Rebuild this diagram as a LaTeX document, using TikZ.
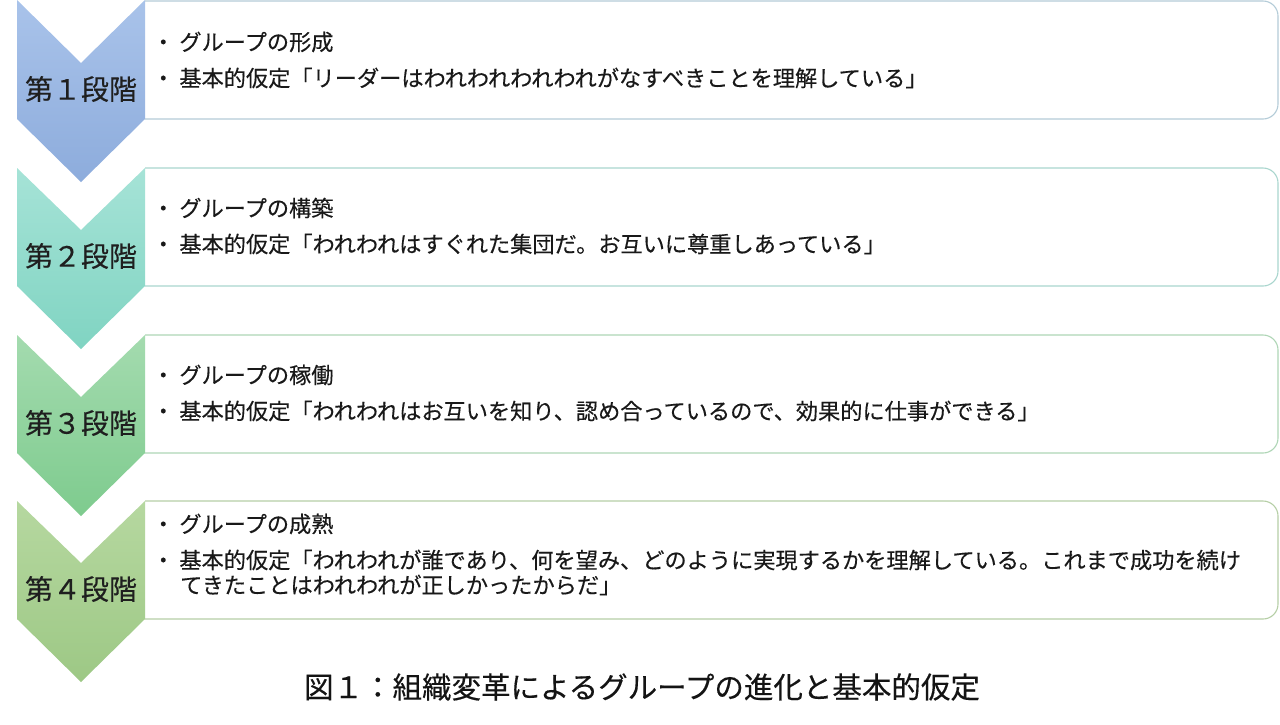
\documentclass[tikz,border=0pt]{standalone}
\usepackage{fontspec}
\setmainfont{Noto Sans CJK JP}[FakeBold=0.3]
\definecolor{aT}{HTML}{A9C3EA}
\definecolor{aB}{HTML}{8DACDC}
\definecolor{aL}{HTML}{B4CCD8}
\definecolor{bT}{HTML}{A6E3D7}
\definecolor{bB}{HTML}{80D4C2}
\definecolor{bL}{HTML}{A9D6CE}
\definecolor{cT}{HTML}{A4DBAF}
\definecolor{cB}{HTML}{7ECB8E}
\definecolor{cL}{HTML}{AFD6B6}
\definecolor{dT}{HTML}{B6D8A0}
\definecolor{dB}{HTML}{9DC885}
\definecolor{dL}{HTML}{B6CFA6}
\begin{document}
\begin{tikzpicture}[x=1pt,y=-1pt,
  stagelabel/.style={font=\fontsize{28}{32}\selectfont, text=black!88, inner sep=0},
  bodytext/.style={font=\fontsize{22.2}{26}\selectfont, anchor=west, inner sep=0, text=black!90},
  boxline/.style={line width=1.1pt, rounded corners=15pt},
  captiontext/.style={font=\fontsize{29.5}{34}\selectfont, inner sep=0, text=black!92}]
\useasboundingbox (0,0) rectangle (1280,724);
\fill[white] (0,0) rectangle (1280,724);
\newcommand{\bul}{・\hspace{5pt}}

% ---------- stage 1
\begin{scope}[shift={(0,1)}]
  \draw[boxline, draw=aL] (145,0) -- (1278,0) -- (1278,118) -- (145,118);
  \shade[top color=aT, bottom color=aB] (17,-1) -- (81,62) -- (145,-1) -- (145,118) -- (81,181) -- (17,118) -- cycle;
  \node[stagelabel] (s1) at (81,88) {第１段階};
  \node[bodytext] (t1a) at (152,41) {\bul グループの形成};
  \node[bodytext] (t1b) at (152,77) {\bul 基本的仮定「リーダーはわれわれわれわれがなすべきことを理解している」};
\end{scope}

% ---------- stage 2
\begin{scope}[shift={(0,168)}]
  \draw[boxline, draw=bL] (145,0) -- (1278,0) -- (1278,118) -- (145,118);
  \shade[top color=bT, bottom color=bB] (17,0) -- (81,62) -- (145,0) -- (145,118) -- (81,181) -- (17,118) -- cycle;
  \node[stagelabel] (s2) at (81,88) {第２段階};
  \node[bodytext] (t2a) at (152,40) {\bul グループの構築};
  \node[bodytext] (t2b) at (152,76) {\bul 基本的仮定「われわれはすぐれた集団だ。お互いに尊重しあっている」};
\end{scope}

% ---------- stage 3
\begin{scope}[shift={(0,335)}]
  \draw[boxline, draw=cL] (145,0) -- (1278,0) -- (1278,118) -- (145,118);
  \shade[top color=cT, bottom color=cB] (17,0) -- (81,62) -- (145,0) -- (145,118) -- (81,181) -- (17,118) -- cycle;
  \node[stagelabel] (s3) at (81,88) {第３段階};
  \node[bodytext] (t3a) at (152,40) {\bul グループの稼働};
  \node[bodytext] (t3b) at (152,76) {\bul 基本的仮定「われわれはお互いを知り、認め合っているので、効果的に仕事ができる」};
\end{scope}

% ---------- stage 4
\begin{scope}[shift={(0,501)}]
  \draw[boxline, draw=dL] (145,0) -- (1278,0) -- (1278,118) -- (145,118);
  \shade[top color=dT, bottom color=dB] (17,0) -- (81,62) -- (145,0) -- (145,118) -- (81,181) -- (17,118) -- cycle;
  \node[stagelabel] (s4) at (81,88) {第４段階};
  \node[bodytext] (t4a) at (152,23) {\bul グループの成熟};
  \node[bodytext] (t4b) at (152,59) {\bul 基本的仮定「われわれが誰であり、何を望み、どのように実現するかを理解している。これまで成功を続け};
  \node[bodytext] (t4c) at (180,84) {てきたことはわれわれが正しかったからだ」};
\end{scope}

% ---------- caption
\node[captiontext] (cap) at (642,687) {図１：組織変革によるグループの進化と基本的仮定};
\end{tikzpicture}
\end{document}
